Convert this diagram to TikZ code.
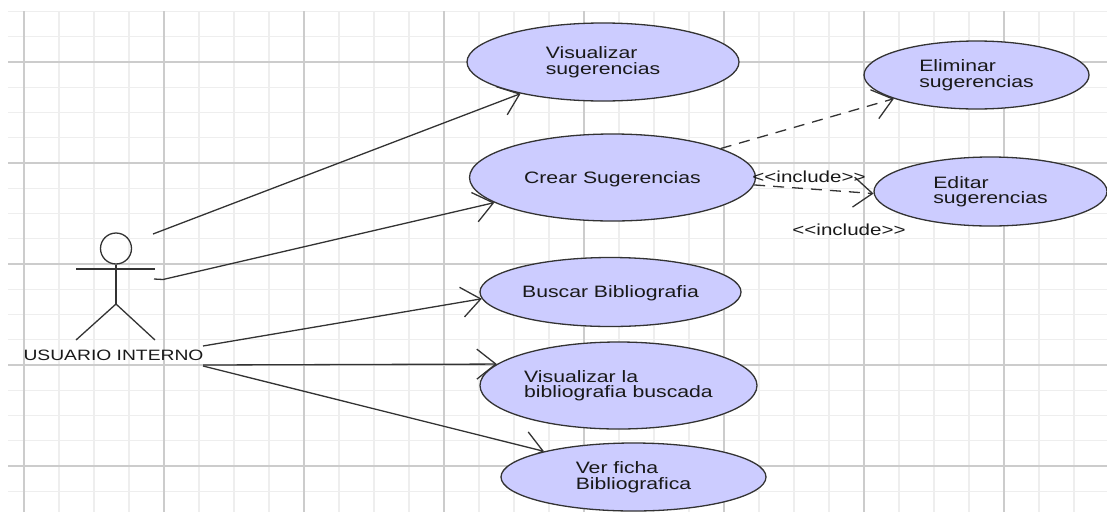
\documentclass[tikz,border=0pt]{standalone}
\usepackage{fontspec}
\setmainfont[FakeStretch=1.285]{Liberation Sans}
\usetikzlibrary{arrows.meta,backgrounds,shapes.geometric}
\definecolor{casefill}{RGB}{204,204,255}
\definecolor{gridminor}{RGB}{238,238,238}
\definecolor{gridmajor}{RGB}{204,204,204}
\definecolor{inkline}{RGB}{51,51,51}
\tikzset{
    usecase/.style={ellipse, draw=inkline, fill=casefill, line width=1.3pt, inner sep=0pt, align=left,
        text=black!90, font=\fontsize{16.5}{15.5}\selectfont},
    assoc/.style={draw=inkline, line width=1.3pt, -{Straight Barb[length=19pt,width=30pt]}},
    incl/.style={assoc, dashed, dash pattern=on 11pt off 8pt},
    stereo/.style={inner sep=0pt, text=black!90, font=\fontsize{16}{16}\selectfont},
}
\begin{document}
\begin{tikzpicture}[x=1pt,y=-1pt]
\useasboundingbox (0,0) rectangle (1107,512);

% use cases
\node[usecase, minimum width=272pt, minimum height=78pt] (visualizar) at (603,62) {Visualizar\\sugerencias};
\node[usecase, minimum width=286pt, minimum height=87pt, text depth=0pt] (crear) at (612.5,177.5) {Crear Sugerencias};
\node[usecase, minimum width=225pt, minimum height=68pt] (eliminar) at (976.5,75) {Eliminar\\sugerencias};
\node[usecase, minimum width=233pt, minimum height=69pt] (editar) at (990.5,191.5) {Editar\\sugerencias};
\node[usecase, minimum width=261pt, minimum height=69pt, text depth=0pt] (buscar) at (610.5,292) {Buscar Bibliografia};
\node[usecase, minimum width=277pt, minimum height=87pt] (bibliografia) at (618.5,385.5) {Visualizar la\\bibliografia buscada};
\node[usecase, minimum width=265pt, minimum height=68pt] (ficha) at (633.5,477) {Ver ficha\\Bibliografica};

% actor
\node[circle, draw=inkline, line width=1.3pt, minimum size=31pt, inner sep=0pt] (cabeza) at (116,248.5) {};
\coordinate (cadera) at (116,304);
\coordinate (brazoA) at (76,269);
\coordinate (brazoB) at (155,269);
\coordinate (pieA) at (76,340);
\coordinate (pieB) at (155,340);
\draw[inkline, line width=1.3pt] (cabeza.south)--(cadera);
\draw[inkline, line width=1.3pt] (brazoA)--(brazoB);
\draw[inkline, line width=1.3pt] (pieA)--(cadera)--(pieB);
\node[stereo, font=\fontsize{15}{16}\selectfont] (usuario) at (113.5,355) {USUARIO INTERNO};

\coordinate (salidaA) at (153,234);
\coordinate (salidaB) at (154,279);
\coordinate (quiebreB) at (163,279.5);
\coordinate (salidaC) at (203,346);
\coordinate (salidaD) at (203,365);
\coordinate (salidaE) at (203,366);

% grid and connectors, under the ellipses
\begin{scope}[on background layer]
\foreach \i in {0,...,31} {
    \draw[gridminor, line width=1.2pt] ({24+35*\i},11)--({24+35*\i},512);
}
\foreach \i in {0,...,19} {
    \draw[gridminor, line width=1.2pt] (8,{11.5+25.25*\i})--(1107,{11.5+25.25*\i});
}
\foreach \i in {0,...,7} {
    \draw[gridmajor, line width=1.2pt] ({24+140*\i},11)--({24+140*\i},512);
}
\foreach \i in {0,...,4} {
    \draw[gridmajor, line width=1.2pt] (8,{62+101*\i})--(1107,{62+101*\i});
}
\draw[assoc] (salidaA)--(visualizar.201.9);
\draw[assoc] (salidaB)--(quiebreB)--(crear.192.6);
\draw[assoc] (salidaC)--(buscar.183);
\draw[assoc] (salidaD)--(bibliografia.170.2);
\draw[assoc] (salidaE)--(ficha.164.5);
\draw[incl] (crear.15.4)--(eliminar.196);
\draw[incl] (crear.357.6)--(editar.181);
\end{scope}

\node[stereo] (inclA) at (809,177) {<{}<include>{}>};
\node[stereo] (inclB) at (849,230) {<{}<include>{}>};
\end{tikzpicture}
\end{document}
